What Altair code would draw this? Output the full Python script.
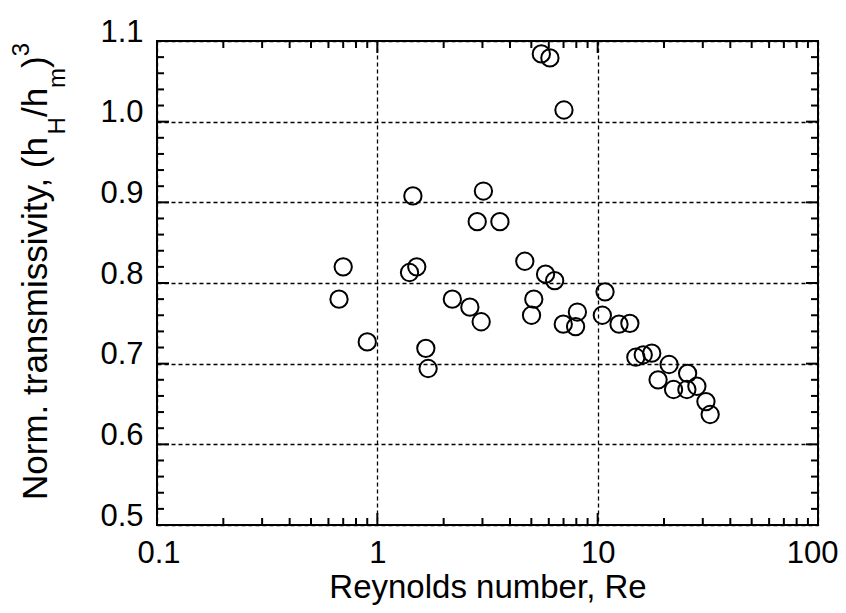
import altair as alt
import pandas as pd

# ---- data ----
re_values = [0.67, 0.70, 0.90, 1.40, 1.51, 1.45, 1.66, 1.70, 2.19, 2.63,
             2.84, 2.96, 3.03, 3.60, 4.67, 5.01, 5.13, 5.55, 5.80, 6.07,
             6.38, 6.98, 7.03, 7.94, 8.09, 10.5, 10.8, 12.5, 14.0, 14.9,
             16.1, 17.6, 18.8, 21.1, 22.1, 25.4, 25.6, 28.2, 31.0, 32.4]
trans_values = [0.780, 0.820, 0.727, 0.813, 0.820, 0.908, 0.719, 0.694, 0.780, 0.770,
                0.876, 0.752, 0.914, 0.876, 0.827, 0.760, 0.780, 1.084, 0.811, 1.079,
                0.803, 0.749, 1.0145, 0.746, 0.764, 0.760, 0.789, 0.749, 0.750, 0.708,
                0.711, 0.713, 0.680, 0.699, 0.668, 0.668, 0.688, 0.672, 0.653, 0.637]

x_major = [0.1, 1, 10, 100]
x_minor = [0.2, 0.3, 0.4, 0.5, 0.6, 0.7, 0.8, 0.9,
           2, 3, 4, 5, 6, 7, 8, 9,
           20, 30, 40, 50, 60, 70, 80, 90]
y_major = [0.5, 0.6, 0.7, 0.8, 0.9, 1.0, 1.1]
y_minor = [0.52, 0.54, 0.56, 0.58, 0.62, 0.64, 0.66, 0.68,
           0.72, 0.74, 0.76, 0.78, 0.82, 0.84, 0.86, 0.88,
           0.92, 0.94, 0.96, 0.98, 1.02, 1.04, 1.06, 1.08]

x_title = "Reynolds number, Re"
# y title pieces: (text, kind) kind: n=normal, sub, sup
y_title_parts = [("Norm. transmissivity, (h", "n"), ("H", "sub"), ("/h", "n"),
                 ("m", "sub"), (")", "n"), ("3", "sup")]

# ---- layout / style ----
W, H = 661, 484
FONT = "Liberation Sans"
MAJ, MIN = 12, 7

xscale = alt.Scale(type="log", domain=[0.1, 100], nice=False)
yscale = alt.Scale(domain=[0.5, 1.1], nice=False, zero=False)

grid_kw = dict(grid=True, gridDash=[4, 3], gridColor="black", gridWidth=1.3,
               gridOpacity=1, ticks=False, domain=False, labelFont=FONT,
               labelFontSize=31, labelColor="black", labelOverlap=False)

x_axis = alt.Axis(values=x_major, format="~g", labelPadding=13,
                  labelFlush=True, labelFlushOffset=20,
                  title=x_title, titleFont=FONT,
                  titleFontSize=33, titleFontWeight="normal",
                  titleColor="black", titlePadding=3, **grid_kw)
y_axis = alt.Axis(values=y_major, format=".1f", labelPadding=14,
                  labelBaseline="alphabetic", title="", **grid_kw)

df = pd.DataFrame({"re": re_values, "t": trans_values})

points = alt.Chart(df).mark_point(
    shape="circle", filled=False, size=300, strokeWidth=2, color="black", opacity=1
).encode(
    x=alt.X("re:Q", scale=xscale, axis=x_axis),
    y=alt.Y("t:Q", scale=yscale, axis=y_axis),
)


def tick_layer(values, length, side):
    d = pd.DataFrame({"re": values, "t": values})
    base = alt.Chart(d).mark_rule(color="black", strokeWidth=2)
    if side == "bottom":
        return base.encode(x=alt.X("re:Q", scale=xscale, axis=x_axis),
                           y=alt.value(H), y2=alt.value(H - length))
    if side == "top":
        return base.encode(x=alt.X("re:Q", scale=xscale, axis=x_axis),
                           y=alt.value(0), y2=alt.value(length))
    if side == "left":
        return base.encode(y=alt.Y("t:Q", scale=yscale, axis=y_axis),
                           x=alt.value(0), x2=alt.value(length))
    return base.encode(y=alt.Y("t:Q", scale=yscale, axis=y_axis),
                       x=alt.value(W), x2=alt.value(W - length))


tick_layers = []
for side in ["bottom", "top"]:
    tick_layers.append(tick_layer(x_major, MAJ, side))
    tick_layers.append(tick_layer(x_minor, MIN, side))
for side in ["left", "right"]:
    tick_layers.append(tick_layer(y_major, MAJ, side))
    tick_layers.append(tick_layer(y_minor, MIN, side))

# rotated y title built from pieces (Liberation Sans advance widths, em units)
char_w = {"N": .722, "o": .556, "r": .333, "m": .833, ".": .278, " ": .278,
          "t": .278, "a": .556, "n": .556, "s": .5, "i": .222, "v": .5,
          "y": .5, ",": .278, "(": .333, "h": .556, "H": .722, "/": .278,
          ")": .333, "3": .556}
F_MAIN, F_SMALL = 35, 24
shift = {"n": 0, "sub": 18, "sup": -18}
anchor_x, anchor_y = -110, 459
dummy = pd.DataFrame({"a": [0]})
title_layers = []
pos = 0.0
for txt, kind in y_title_parts:
    fs = F_MAIN if kind == "n" else F_SMALL
    title_layers.append(
        alt.Chart(dummy).mark_text(
            text=txt, angle=270, align="left", baseline="alphabetic",
            font=FONT, fontSize=fs, color="black"
        ).encode(x=alt.value(anchor_x + shift[kind]), y=alt.value(anchor_y - pos))
    )
    pos += sum(char_w.get(c, 0.55) for c in txt) * fs

chart = alt.layer(points, *tick_layers, *title_layers).properties(
    width=W, height=H,
    padding={"left": 149, "top": 33, "right": 20, "bottom": 80},
    autosize=alt.AutoSizeParams(type="none"),
).configure_view(stroke="black", strokeWidth=2)

chart.save("out.html", embed_options={"renderer": "svg", "actions": False})
